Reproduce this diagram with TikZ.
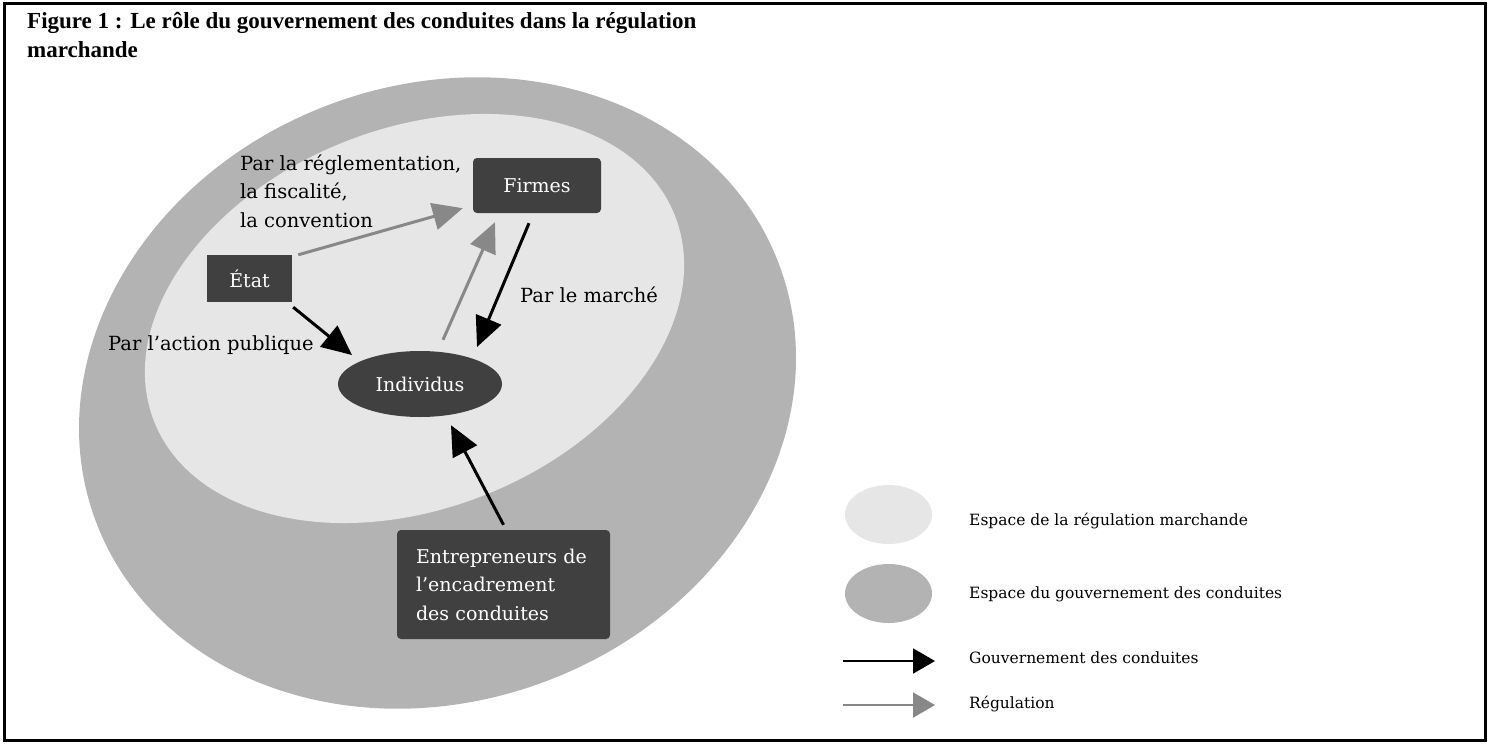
\documentclass[tikz,border=0pt]{standalone}
\usepackage{fontspec}
\setmainfont{DejaVu Serif}
\newfontfamily\titlefont{Liberation Serif}
\usetikzlibrary{shapes.geometric,arrows.meta}
\definecolor{outerc}{HTML}{B3B3B3}
\definecolor{innerc}{HTML}{E6E6E6}
\definecolor{boxc}{HTML}{404040}
\definecolor{regc}{HTML}{888888}
\tikzset{
  darkbox/.style={fill=boxc, text=white, inner sep=0pt, font=\fontsize{19}{28.5}\selectfont},
  lbl/.style={anchor=base west, inner sep=0pt, font=\fontsize{19.5}{28.5}\selectfont, align=left},
  legtxt/.style={anchor=base west, inner sep=0pt, font=\fontsize{15.5}{18}\selectfont},
  govarrow/.style={line width=3pt, black, -{Triangle[length=30pt,width=27pt]}},
  regarrow/.style={line width=3pt, regc, -{Triangle[length=30pt,width=27pt]}},
  leggov/.style={line width=2pt, black, -{Triangle[length=22pt,width=25pt]}},
  legreg/.style={line width=2pt, regc, -{Triangle[length=22pt,width=25pt]}},
}
\begin{document}
\begin{tikzpicture}[x=1pt,y=-1pt]
\useasboundingbox (0,0) rectangle (1490,744);
% frame
\draw[line width=3pt] (4.5,3) rectangle (1485.5,740.5);
% title
\node[anchor=base west, inner sep=0pt, align=left, font=\titlefont\bfseries\fontsize{23}{28.5}\selectfont] (title) at (27,57)
  {Figure 1 : Le rôle du gouvernement des conduites dans la régulation\\marchande};
% spaces
\fill[outerc, rotate around={20.65:(437.5,393)}] (437.5,393) ellipse [x radius=365pt, y radius=308pt];
\fill[innerc, rotate around={21.6:(414.5,318.5)}] (414.5,318.5) ellipse [x radius=280pt, y radius=190pt];
% nodes
\node[darkbox, rounded corners=4pt, minimum width=128pt, minimum height=55pt] (firmes) at (537,185.5) {Firmes};
\node[darkbox, minimum width=85pt, minimum height=47pt] (etat) at (249.5,278.5) {État};
\node[darkbox, ellipse, minimum width=164pt, minimum height=66pt] (ind) at (420,384) {Individus};
\node[darkbox, rounded corners=4pt, minimum width=213pt, minimum height=109pt, text width=175pt, align=left] (entre) at (503.5,584.5)
  {Entrepreneurs de\\l’encadrement\\des conduites};
% labels
\node[lbl] (lreg) at (240,227) {Par la réglementation,\\la fiscalité,\\la convention};
\node[lbl] (lmar) at (520,302) {Par le marché};
\node[lbl] (lact) at (108,350) {Par l’action publique};
% connectors
\draw[regarrow] ([shift={(6,0)}]etat.north east) -- ([shift={(-10,-5)}]firmes.south west);
\draw[regarrow] ([shift={(23,-11)}]ind.north) -- ([shift={(-42,9)}]firmes.south);
\draw[govarrow] ([shift={(-8,10)}]firmes.south) -- ([shift={(57,-37)}]ind.center);
\draw[govarrow] ([shift={(1,5)}]etat.south east) -- ([shift={(-68,-29)}]ind.center);
\draw[govarrow] ([shift={(0,-5)}]entre.north) -- ([shift={(31,8)}]ind.south);
% legend
\node[ellipse, fill=innerc, minimum width=87pt, minimum height=59pt, inner sep=0pt] (legin) at (888.5,514.5) {};
\node[ellipse, fill=outerc, minimum width=87pt, minimum height=59pt, inner sep=0pt] (legout) at (888.5,593.5) {};
\coordinate (g1) at (843,661);
\coordinate (g2) at (935,661);
\coordinate (r1) at (843,705);
\coordinate (r2) at (935,705);
\draw[leggov] (g1) -- (g2);
\draw[legreg] (r1) -- (r2);
\node[legtxt] (t1) at (969,525) {Espace de la régulation marchande};
\node[legtxt] (t2) at (969,598) {Espace du gouvernement des conduites};
\node[legtxt] (t3) at (969,663) {Gouvernement des conduites};
\node[legtxt] (t4) at (969,708) {Régulation};
\end{tikzpicture}
\end{document}
